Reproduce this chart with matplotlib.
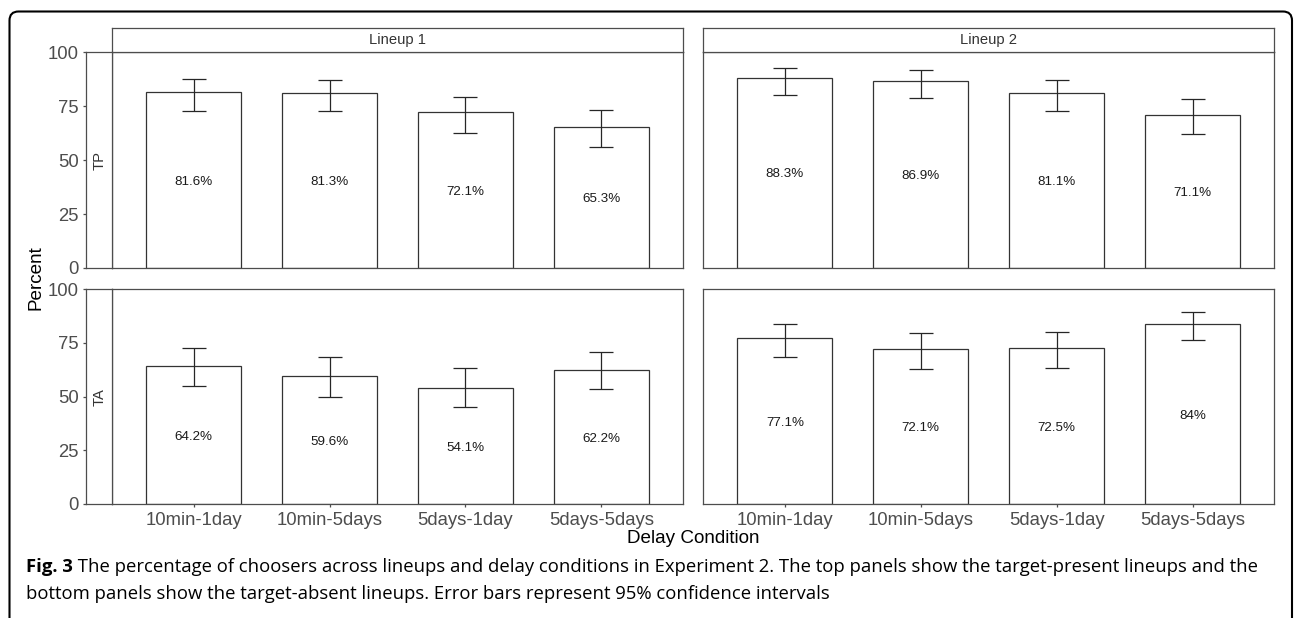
import matplotlib
matplotlib.use("Agg")
import matplotlib.pyplot as plt
from matplotlib.patches import FancyBboxPatch
import numpy as np

# ---- data -------------------------------------------------------------
conditions = ["10min-1day", "10min-5days", "5days-1day", "5days-5days"]
lineups = ["Lineup 1", "Lineup 2"]
lineup_types = ["TP", "TA"]

tp_lineup1 = [81.6, 81.3, 72.1, 65.3]
tp_lineup2 = [88.3, 86.9, 81.1, 71.1]
ta_lineup1 = [64.2, 59.6, 54.1, 62.2]
ta_lineup2 = [77.1, 72.1, 72.5, 84.0]

# 95% confidence intervals (lower, upper)
tp_lineup1_lo = [72.8, 72.8, 62.6, 56.2]
tp_lineup1_hi = [87.6, 87.3, 79.4, 73.2]
tp_lineup2_lo = [80.2, 79.0, 72.8, 62.1]
tp_lineup2_hi = [92.9, 91.9, 87.0, 78.2]
ta_lineup1_lo = [55.1, 50.0, 45.0, 53.4]
ta_lineup1_hi = [72.8, 68.5, 63.5, 70.7]
ta_lineup2_lo = [68.6, 63.0, 63.5, 76.4]
ta_lineup2_hi = [84.0, 79.8, 80.3, 89.4]

y_ticks = [0, 25, 50, 75, 100]

caption_bold = "Fig. 3"
caption_line1 = (" The percentage of choosers across lineups and delay conditions in "
                 "Experiment 2. The top panels show the target-present lineups and the")
caption_line2 = ("bottom panels show the target-absent lineups. Error bars represent "
                 "95% confidence intervals")

# ---- figure -----------------------------------------------------------
W, H = 1295, 618
fig = plt.figure(figsize=(W / 100, H / 100), dpi=100)
fig.patch.set_facecolor("white")

plt.rcParams["font.family"] = ["Liberation Sans", "DejaVu Sans"]

LINE = "#4d4d4d"
TICKTXT = "#4d4d4d"


def px_box(x0, y0, x1, y1):
    """Axes rectangle from pixel edges measured from the top-left corner."""
    return [x0 / W, 1 - y1 / H, (x1 - x0) / W, (y1 - y0) / H]


col_x = [(112.3, 682.7), (703.3, 1274.3)]
row_y = [(52.3, 268.0), (289.3, 504.0)]
strip_top = (28.3, 52.3)
strip_left = (86.0, 112.3)

values = {("TP", 0): (tp_lineup1, tp_lineup1_lo, tp_lineup1_hi),
          ("TP", 1): (tp_lineup2, tp_lineup2_lo, tp_lineup2_hi),
          ("TA", 0): (ta_lineup1, ta_lineup1_lo, ta_lineup1_hi),
          ("TA", 1): (ta_lineup2, ta_lineup2_lo, ta_lineup2_hi)}


def style_spines(ax):
    for s in ax.spines.values():
        s.set_color(LINE)
        s.set_linewidth(0.9)


x = np.arange(len(conditions))

for r, ltype in enumerate(lineup_types):
    for c in range(len(lineups)):
        vals, lo, hi = values[(ltype, c)]
        vals = np.array(vals)
        lo = np.array(lo)
        hi = np.array(hi)
        ax = fig.add_axes(px_box(col_x[c][0], row_y[r][0], col_x[c][1], row_y[r][1]))
        ax.bar(x, vals, width=0.7, color="white", edgecolor="#333333",
               linewidth=0.9, zorder=2)
        ax.errorbar(x, vals, yerr=[vals - lo, hi - vals], fmt="none",
                    ecolor="#262626", elinewidth=0.9, capsize=8.6,
                    capthick=0.9, zorder=3)
        for xi, v in zip(x, vals):
            ax.text(xi, v / 2 - 0.8, f"{v:g}%", ha="center", va="center",
                    fontsize=9.6, color="#1a1a1a", zorder=4)
        ax.set_xlim(-0.6, 3.6)
        ax.set_ylim(0, 100)
        ax.set_yticks([])
        style_spines(ax)
        if r == len(lineup_types) - 1:
            ax.set_xticks(x)
            ax.set_xticklabels(conditions, fontsize=13.3, color=TICKTXT)
            ax.tick_params(axis="x", length=2.5, width=0.9, color=LINE, pad=3)
        else:
            ax.set_xticks([])

        # top strip with the lineup name
        if r == 0:
            sax = fig.add_axes(px_box(col_x[c][0], strip_top[0],
                                      col_x[c][1], strip_top[1]))
            sax.set_xticks([])
            sax.set_yticks([])
            style_spines(sax)
            sax.text(0.5, 0.5, lineups[c], transform=sax.transAxes,
                     ha="center", va="center", fontsize=10.6, color="#333333")

        # left strip with the lineup type and the shared y axis
        if c == 0:
            lax = fig.add_axes(px_box(strip_left[0], row_y[r][0],
                                      strip_left[1], row_y[r][1]))
            lax.set_ylim(0, 100)
            lax.set_xticks([])
            lax.set_yticks(y_ticks)
            lax.set_yticklabels([str(t) for t in y_ticks], fontsize=13.3,
                                color=TICKTXT)
            lax.tick_params(axis="y", length=2.5, width=0.9, color=LINE, pad=2.5)
            style_spines(lax)
            lax.text(0.5, 0.5, ltype, transform=lax.transAxes, rotation=90,
                     ha="center", va="center", fontsize=10.6, color="#333333")

# axis titles
fig.text(36.5 / W, 1 - 278 / H, "Percent", rotation=90, ha="center",
         va="center", fontsize=13.6, color="black")
fig.text(693.3 / W, 1 - 538.5 / H, "Delay Condition", ha="center",
         va="center", fontsize=13.6, color="black")

# rounded frame around the figure and its caption
frame = FancyBboxPatch((0.095, -0.3), 12.825, 6.365,
                       boxstyle="round,pad=0,rounding_size=0.09",
                       transform=fig.dpi_scale_trans, facecolor="none",
                       edgecolor="black", linewidth=1.5)
fig.patches.append(frame)

# caption
cap_font = ["Open Sans", "DejaVu Sans"]
cap_size = 13.3
t_bold = fig.text(26.5 / W, 1 - 572 / H, caption_bold, ha="left",
                  va="baseline", fontsize=cap_size, fontweight="bold",
                  family=cap_font, color="black")
renderer = fig.canvas.get_renderer()
bb = t_bold.get_window_extent(renderer=renderer)
fig.text(bb.x1 / W, 1 - 572 / H, caption_line1, ha="left", va="baseline",
         fontsize=cap_size, family=cap_font, color="black")
fig.text(26.5 / W, 1 - 599 / H, caption_line2, ha="left", va="baseline",
         fontsize=cap_size, family=cap_font, color="black")

fig.savefig("out.png", dpi=100, facecolor="white")
